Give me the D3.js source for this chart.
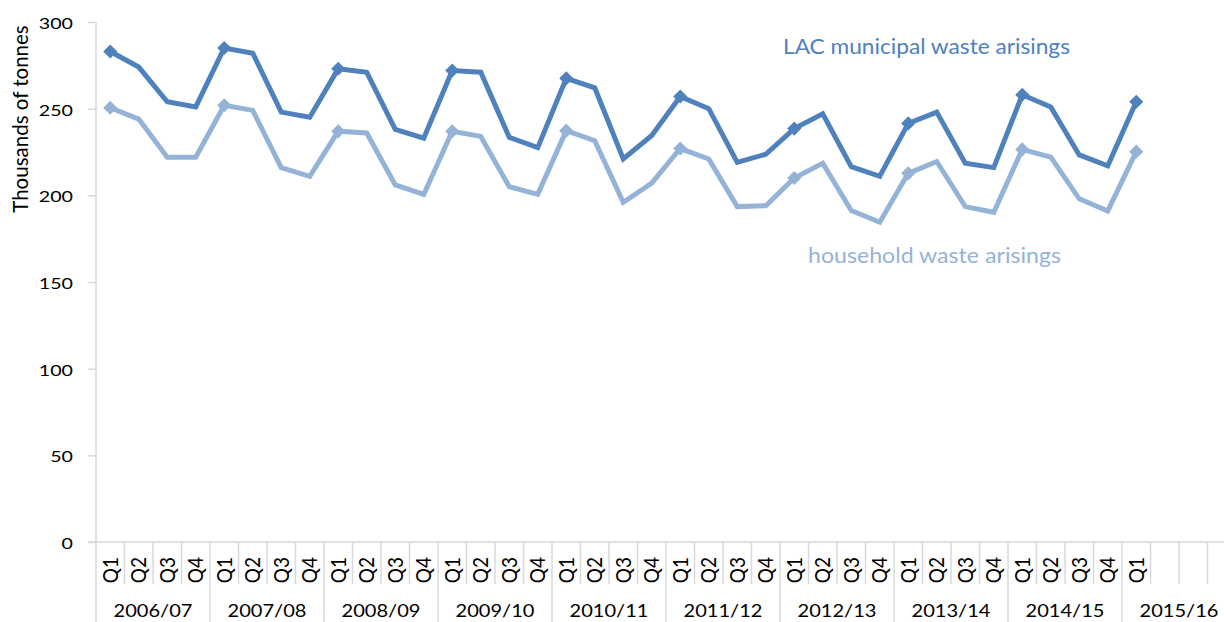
<!DOCTYPE html>
<html>
<head>
<meta charset="utf-8">
<script src="https://cdn.jsdelivr.net/npm/d3@7"></script>
<style>
  html, body { margin: 0; padding: 0; background: #fff; }
  svg { display: block; }
  text { font-family: Lato, "Open Sans", sans-serif; fill: #000; }
</style>
</head>
<body>
<svg id="chart" width="1224" height="622"></svg>
<script>
const years = ["2006/07","2007/08","2008/09","2009/10","2010/11","2011/12","2012/13","2013/14","2014/15","2015/16"];
const quarters = ["Q1","Q2","Q3","Q4"];
const lacValues = [283,274,254,251, 285,282,248,245, 273,271,238,233, 272,271,233.5,227.5,
  267.5,262,221,234.5, 257,250,219,223.7, 238.5,247,216.5,211, 241.5,248,218.5,216,
  258,251,223.3,217, 254];
const householdValues = [250.5,244,222,222, 252,249,216,211, 237,236,206,200.5, 237,234,205,200.6,
  237.3,231.5,196,207, 227,221,193.5,194, 210,218.5,191.2,184.5, 212.7,219.5,193.5,190.2,
  226.5,222,198,191, 225.2];
const yTicks = [0,50,100,150,200,250,300];
const seriesNames = ["LAC municipal waste arisings","household waste arisings"];
const colors = ["#4F81BD","#95B3D7"];

(function () {
const categories = [];
years.forEach(yr => quarters.forEach(q => categories.push(yr + " " + q)));

const svg = d3.select("#chart");
const pLeft = 96, pRight = 1236, pTop = 22, pBottom = 542;
const grey = "#D9D9D9";

const x = d3.scaleBand().domain(categories).range([pLeft, pRight]).paddingInner(0).paddingOuter(0);
const y = d3.scaleLinear().domain([0, 300]).range([pBottom, pTop]);

function addText(px, py, txt, size, sx, anchor, rot) {
  return svg.append("text")
    .attr("transform", `translate(${px},${py}) scale(${sx},1)` + (rot ? ` rotate(${rot})` : ""))
    .attr("text-anchor", anchor).attr("dy", "0.36em")
    .style("font-size", size + "px").text(txt);
}

const yAxis = svg.append("g").attr("transform", `translate(${pLeft},0)`)
  .call(d3.axisLeft(y).tickValues(yTicks).tickSize(8).tickFormat(""));
yAxis.select(".domain").remove();
yAxis.selectAll(".tick line").attr("stroke", grey).attr("stroke-width", 1.5);
yTicks.forEach(t => addText(73, y(t) + 1.5, String(t), 15.5, 1.27, "end"));

svg.append("line").attr("x1", pLeft).attr("x2", pLeft).attr("y1", pTop).attr("y2", 622)
  .attr("stroke", grey).attr("stroke-width", 1.5);

svg.append("line").attr("x1", pLeft - 8).attr("x2", pRight).attr("y1", pBottom).attr("y2", pBottom)
  .attr("stroke", grey).attr("stroke-width", 1.5);

categories.forEach((c, i) => {
  if (i === 0) return;
  const xx = x(c);
  const isYear = i % 4 === 0;
  svg.append("line").attr("x1", xx).attr("x2", xx).attr("y1", pBottom)
    .attr("y2", isYear ? 622 : 584).attr("stroke", grey).attr("stroke-width", 1.5);
});
svg.append("line").attr("x1", pRight).attr("x2", pRight).attr("y1", pBottom).attr("y2", 622)
  .attr("stroke", grey).attr("stroke-width", 1.5);

categories.forEach((c, i) => {
  if (i >= lacValues.length) return;
  const cx = x(c) + x.bandwidth() / 2;
  addText(cx, 557, quarters[i % 4], 19, 1.08, "end", -90);
});

years.forEach((yr, k) => {
  const cx = x(categories[k * 4]) + x.bandwidth() * 2;
  addText(cx, 611, yr, 17, 1.18, "middle");
});

addText(20.5, 119, "Thousands of tonnes", 20.5, 1, "middle", -90);

const line = d3.line().x((d, i) => x(categories[i]) + x.bandwidth() / 2).y(d => y(d));
[householdValues, lacValues].forEach((vals, k) => {
  const col = k === 0 ? colors[1] : colors[0];
  svg.append("path").datum(vals).attr("d", line).attr("fill", "none")
    .attr("stroke", col).attr("stroke-width", 5).attr("stroke-linejoin", "miter");
  const diamond = d3.symbol().type(d3.symbolSquare).size(100);
  vals.forEach((v, i) => {
    if (i % 4 !== 0) return;
    const cx = x(categories[i]) + x.bandwidth() / 2;
    svg.append("path").attr("d", diamond())
      .attr("transform", `translate(${cx},${y(v)}) rotate(45)`)
      .attr("fill", col);
  });
});

svg.append("text").attr("x", 783).attr("y", 46).attr("dy", "0.36em")
  .attr("textLength", 287).attr("lengthAdjust", "spacingAndGlyphs")
  .style("font-size", "22px").style("fill", colors[0])
  .text(seriesNames[0]);
svg.append("text").attr("x", 808).attr("y", 255).attr("dy", "0.36em")
  .attr("textLength", 253).attr("lengthAdjust", "spacingAndGlyphs")
  .style("font-size", "22px").style("fill", colors[1])
  .text(seriesNames[1]);
})();
</script>
</body>
</html>
